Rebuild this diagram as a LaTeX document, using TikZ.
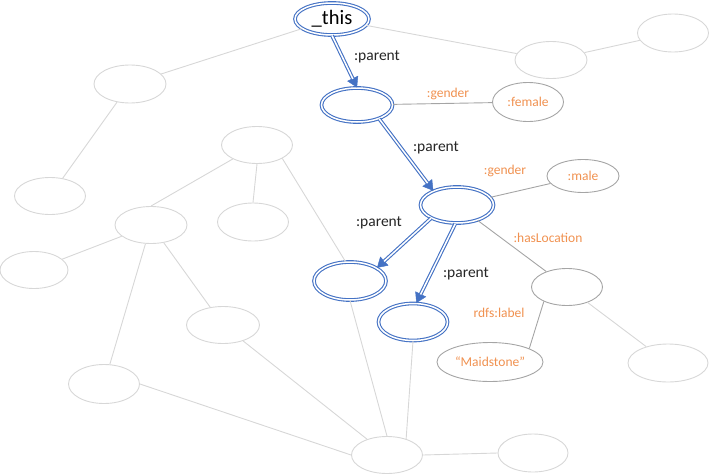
\documentclass[tikz,border=0pt]{standalone}
\usepackage{fontspec}
\setmainfont{Carlito}
\usetikzlibrary{shapes.geometric, arrows.meta}
\definecolor{blueC}{RGB}{68,114,196}
\definecolor{orangeC}{RGB}{240,145,80}
\definecolor{lightG}{RGB}{215,215,215}
\definecolor{midG}{RGB}{165,165,165}
\newcommand\parentarrow[2]{%
  \draw[blueC, line width=0.4pt, -{Triangle[length=10pt,width=12pt]}] (#1) -- (#2);
  \draw[blueC, double=white, double distance=1.5pt, line width=1.1pt, shorten >=9.5pt] (#1) -- (#2);
}
\begin{document}
\begin{tikzpicture}[x=1pt,y=-1pt,
  sz/.style 2 args={minimum width=#1pt, minimum height=#2pt},
  bnode/.style={ellipse, draw=blueC, double=white, double distance=1.5pt, line width=1.1pt, inner sep=0pt},
  gnode/.style={ellipse, draw=midG, line width=0.9pt, inner sep=0pt, text=orangeC, font=\fontsize{13.5}{16}\selectfont},
  lnode/.style={ellipse, draw=lightG, line width=0.9pt, inner sep=0pt},
  ledge/.style={draw=lightG, line width=0.9pt},
  gedge/.style={draw=midG, line width=0.9pt},
  plabel/.style={font=\fontsize{15.5}{18}\selectfont, text=black!85, inner sep=0pt},
  olabel/.style={font=\fontsize{13.5}{16}\selectfont, text=orangeC, inner sep=0pt},
]
\useasboundingbox (0,0) rectangle (710,474);

% light nodes
\node[lnode, sz={72}{38}] (n1) at (130,84) {};
\node[lnode, sz={71}{37}] (n2) at (50,196) {};
\node[lnode, sz={71}{37}] (n3) at (257,145) {};
\node[lnode, sz={72}{37}] (n4) at (151,225) {};
\node[lnode, sz={71}{38}] (n5) at (253,222) {};
\node[lnode, sz={68}{37}] (n6) at (34,270) {};
\node[lnode, sz={73}{37}] (n7) at (223,325) {};
\node[lnode, sz={71}{39}] (n8) at (104,384) {};
\node[lnode, sz={71}{37}] (n9) at (387,455) {};
\node[lnode, sz={70}{38}] (n10) at (533,453) {};
\node[lnode, sz={80}{38}] (n11) at (668,363) {};
\node[lnode, sz={72}{37}] (n12) at (551,60) {};
\node[lnode, sz={71}{38}] (n13) at (673,33) {};

% blue nodes
\node[bnode, sz={74}{32}, font=\fontsize{20.5}{24}\selectfont] (this) at (332,19) {\_this};
\node[bnode, sz={71}{34}] (B) at (357,105) {};
\node[bnode, sz={73}{36}] (C) at (457,205) {};
\node[bnode, sz={72}{38}] (D) at (350,281) {};
\node[bnode, sz={69}{37}] (E) at (413,322) {};

% gray nodes
\node[gnode, sz={71}{39}] (female) at (528,102) {:female};
\node[gnode, sz={72}{33}] (male) at (583,176) {:male};
\node[gnode, sz={71}{37}] (loc) at (567,287) {};
\node[gnode, sz={106}{39}] (mds) at (490,362) {“Maidstone”};

% light edges
\draw[ledge] (this) -- (n1);
\draw[ledge] (this) -- (n12);
\draw[ledge] (n12) -- (n13);
\draw[ledge] (n1) -- (n2);
\draw[ledge] (n3.210) -- (n4.north);
\draw[ledge] (n3.south) -- (n5.north);
\draw[ledge] (n3.-28) -- (D.103);
\draw[ledge] (n4) -- (n6);
\draw[ledge] (n4) -- (n8);
\draw[ledge] (n4) -- (n7);
\draw[ledge] (n7) -- (n9);
\draw[ledge] (n8.east) -- (n9.west);
\draw[ledge] (D.south) -- (n9.north);
\draw[ledge] (E.south) -- (n9.40);
\draw[ledge] (n9.east) -- (n10.west);
\draw[ledge] (loc) -- (n11);

% gray edges
\draw[gedge] (B) -- (female);
\draw[gedge] (C) -- (male);
\draw[gedge] (C) -- (loc);
\draw[gedge] (loc.212) -- (mds.19);

% parent arrows
\parentarrow{this.south}{B.north}
\parentarrow{B.-32}{C.149}
\parentarrow{C.207}{D.26}
\parentarrow{C.-95}{E.80}

% labels
\node[plabel] (p1) at (377,57) {:parent};
\node[plabel] (p2) at (436,148) {:parent};
\node[plabel] (p3) at (379,223) {:parent};
\node[plabel] (p4) at (466,274) {:parent};
\node[olabel] (g1) at (448,94) {:gender};
\node[olabel] (g2) at (505,171) {:gender};
\node[olabel] (hl) at (548,238) {:hasLocation};
\node[olabel] (rl) at (499,313) {rdfs:label};
\end{tikzpicture}
\end{document}
